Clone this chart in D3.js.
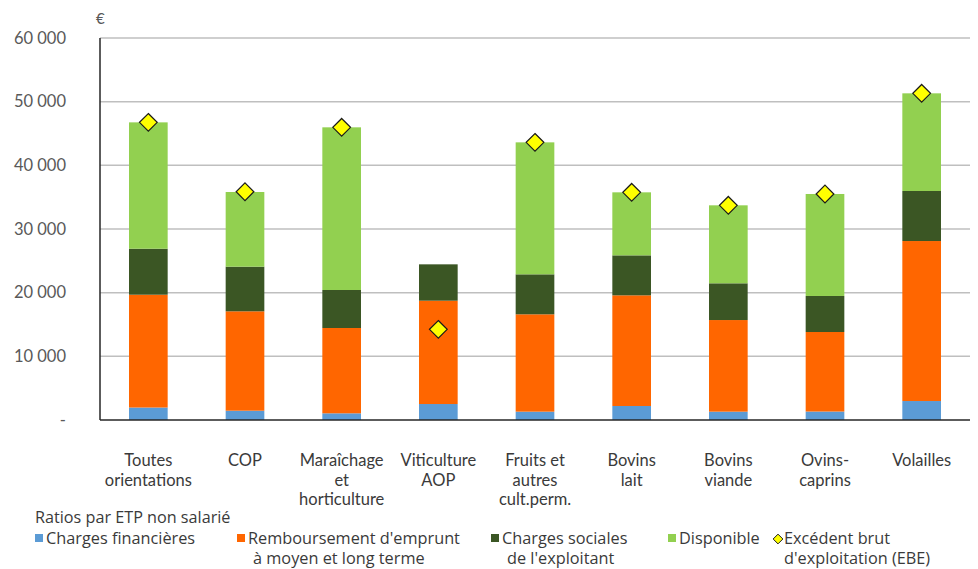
<!DOCTYPE html>
<meta charset="utf-8">
<title>Ratios par ETP non salarié</title>
<style>
body {
  margin: 0px;
  background: white;
}
text {
  font-family: Lato, sans-serif;
}
</style>
<body>
<svg id="chart" width="978" height="569"></svg>
</body>
<script src="https://cdn.jsdelivr.net/npm/d3@7"></script>
<script type="text/javascript">

// Categories (multi-line labels)
var categories = ["Toutes orientations", "COP", "Maraîchage et horticulture", "Viticulture AOP",
                  "Fruits et autres cult.perm.", "Bovins lait", "Bovins viande", "Ovins-caprins", "Volailles"];
var catLines = [["Toutes", "orientations"], ["COP"], ["Maraîchage", "et", "horticulture"], ["Viticulture", "AOP"],
                ["Fruits et", "autres", "cult.perm."], ["Bovins", "lait"], ["Bovins", "viande"], ["Ovins-", "caprins"], ["Volailles"]];

// series values (€ per ETP non salarié)
var chargesFinancieres = [1960, 1460, 1050, 2510, 1310, 2200, 1310, 1330, 2980];
var remboursement      = [17720, 15610, 13400, 16230, 15290, 17380, 14390, 12490, 25130];
var chargesSociales    = [7220, 7010, 5970, 5710, 6280, 6280, 5770, 5660, 7860];
var disponible         = [19850, 11730, 25550, 0, 20730, 9900, 12250, 16020, 15340];
var ebe                = [46750, 35850, 45970, 14240, 43610, 35760, 33720, 35500, 51310];

var yTicks = [0, 10000, 20000, 30000, 40000, 50000, 60000];

var seriesNames = ["Charges financières", "Remboursement d'emprunt\nà moyen et long terme", "Charges sociales\nde l'exploitant", "Disponible"];
var seriesColors = ["#5b9bd5", "#ff6600", "#3b5624", "#92d050"];

var svg = d3.select("#chart");
var margin = {left: 100, right: 970, top: 38, bottom: 420};

var x = d3.scaleBand().domain(categories).range([margin.left, margin.right]).paddingInner(0.6).paddingOuter(0.3);
var y = d3.scaleLinear().domain([0, 60000]).range([margin.bottom, margin.top]);

// gridlines
svg.append("g")
  .selectAll("line")
  .data(yTicks.slice(1))
  .enter().append("line")
  .attr("x1", margin.left).attr("x2", margin.right)
  .attr("y1", function(d) { return y(d); }).attr("y2", function(d) { return y(d); })
  .style("stroke", "#bfbfbf").style("stroke-width", 1.5);

// y axis labels
var fmt = function(d) { return d === 0 ? "-" : d3.format(",")(d).replace(",", " "); };
var yAxis = d3.axisLeft(y).tickValues(yTicks).tickFormat(fmt).tickSize(0).tickPadding(34);
var gy = svg.append("g").attr("transform", "translate(" + margin.left + ",0)").call(yAxis);
gy.select(".domain").remove();
gy.selectAll("text").style("font-size", "16.5px").style("fill", "#595959").style("font-family", "Lato, sans-serif");

svg.append("text").attr("x", 96).attr("y", 24).text("€")
  .style("font-size", "15px").style("fill", "#595959");

// stacked bars
var rows = categories.map(function(c, i) {
  return {cat: c, s0: chargesFinancieres[i], s1: remboursement[i], s2: chargesSociales[i], s3: disponible[i]};
});
var stack = d3.stack().keys(["s0", "s1", "s2", "s3"]);
var layers = stack(rows);

svg.append("g")
  .selectAll("g")
  .data(layers)
  .enter().append("g")
  .style("fill", function(d, i) { return seriesColors[i]; })
  .selectAll("rect")
  .data(function(d) { return d; })
  .enter().append("rect")
  .attr("x", function(d) { return x(d.data.cat); })
  .attr("width", x.bandwidth())
  .attr("y", function(d) { return y(d[1]); })
  .attr("height", function(d) { return y(d[0]) - y(d[1]); });

// axes lines
svg.append("line").attr("x1", margin.left).attr("x2", margin.left).attr("y1", margin.top).attr("y2", margin.bottom)
  .style("stroke", "#262626").style("stroke-width", 1.5);
svg.append("line").attr("x1", margin.left).attr("x2", margin.right).attr("y1", margin.bottom).attr("y2", margin.bottom)
  .style("stroke", "#262626").style("stroke-width", 1.5);

// EBE diamonds
var diamond = d3.symbol().type(d3.symbolDiamond2).size(200);
svg.append("g")
  .selectAll("path")
  .data(ebe)
  .enter().append("path")
  .attr("d", diamond)
  .attr("transform", function(d, i) { return "translate(" + (x(categories[i]) + x.bandwidth() / 2) + "," + y(d) + ")"; })
  .style("fill", "#ffff00").style("stroke", "#1a1a1a").style("stroke-width", 1.2);

// category labels
var lab = svg.append("g").selectAll("text")
  .data(catLines)
  .enter().append("text")
  .attr("text-anchor", "middle")
  .attr("transform", function(d, i) { return "translate(" + (x(categories[i]) + x.bandwidth() / 2) + ",466)"; })
  .style("font-size", "16.5px").style("fill", "#3a3a3a");
lab.selectAll("tspan")
  .data(function(d) { return d; })
  .enter().append("tspan")
  .attr("x", 0)
  .attr("y", function(d, j) { return j * 19.5; })
  .text(function(d) { return d; });

// legend
svg.append("text").attr("x", 35).attr("y", 523).text("Ratios par ETP non salarié")
  .style("font-size", "16.2px").style("fill", "#3a3a3a").style("font-family", "'Open Sans', sans-serif");

var legX = [35, 237, 491, 668];
var leg = svg.append("g").selectAll("g")
  .data(seriesNames)
  .enter().append("g")
  .attr("transform", function(d, i) { return "translate(" + legX[i] + ",0)"; });
leg.append("rect").attr("x", 0).attr("y", 534).attr("width", 8).attr("height", 8)
  .style("fill", function(d, i) { return seriesColors[i]; });
leg.append("text")
  .style("font-size", "16.3px").style("fill", "#3a3a3a").style("font-family", "'Open Sans', sans-serif")
  .selectAll("tspan")
  .data(function(d) { return d.split("\n"); })
  .enter().append("tspan")
  .attr("x", function(d, j) { return j === 0 ? 11 : 16; })
  .attr("y", function(d, j) { return 544 + j * 20; })
  .text(function(d) { return d; });

var legE = svg.append("g").attr("transform", "translate(774,0)");
legE.append("path").attr("d", d3.symbol().type(d3.symbolDiamond2).size(60))
  .attr("transform", "translate(4,539)")
  .style("fill", "#ffff00").style("stroke", "#1a1a1a").style("stroke-width", 1);
legE.append("text")
  .style("font-size", "16.3px").style("fill", "#3a3a3a").style("font-family", "'Open Sans', sans-serif")
  .selectAll("tspan")
  .data(["Excédent brut", "d'exploitation (EBE)"])
  .enter().append("tspan")
  .attr("x", 10)
  .attr("y", function(d, j) { return 544 + j * 20; })
  .text(function(d) { return d; });

</script>
